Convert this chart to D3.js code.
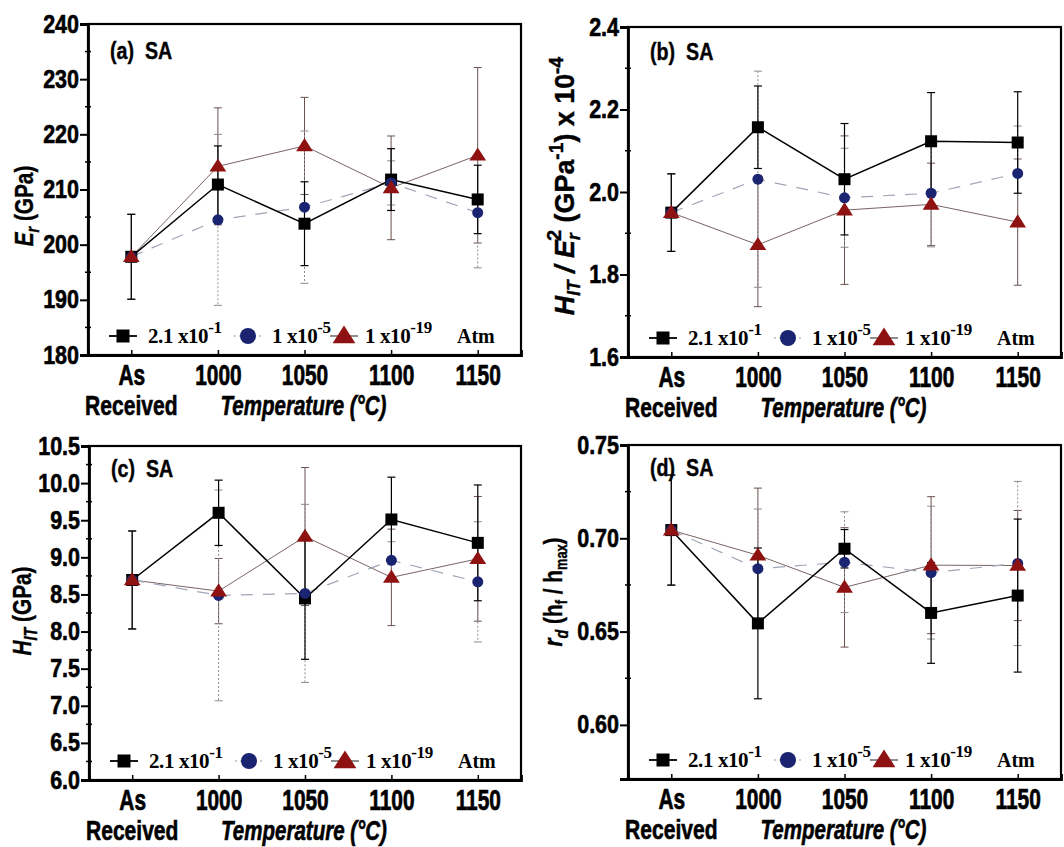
<!DOCTYPE html>
<html>
<head>
<meta charset="utf-8">
<script src="https://cdn.jsdelivr.net/npm/d3@7/dist/d3.min.js"></script>
<style>
  html, body { margin: 0; padding: 0; background: #fff; }
  svg { display: block; }
</style>
</head>
<body>
<svg id="chart" width="1064" height="847"></svg>
<script>
// Annealing temperature categories (x axis)
const categories = ["As Received", "1000", "1050", "1100", "1150"];

// Oxygen partial pressure series (legend): mantissa text + exponent
const seriesLabels = ["2.1 x10", "1 x10", "1 x10"];
const seriesExponents = ["-1", "-5", "-19"];

// (a) Reduced modulus E_r (GPa)
const erHigh = [197.8, 210.9, 203.8, 211.8, 208.2];
const erHighErr = [7.7, 7.0, 7.6, 5.6, 6.2];
const erMid = [197.8, 204.5, 206.8, 211.2, 205.8];
const erMidErr = [7.7, 15.5, 13.8, 4.0, 10.0];
const erLow = [197.8, 214.2, 217.9, 210.3, 216.2];
const erLowErr = [7.7, 10.6, 8.8, 9.4, 15.9];
const erTicks = [180, 190, 200, 210, 220, 230, 240];

// (b) H_IT / E_r^2 (x 10^-4 GPa^-1)
const ratioHigh = [1.95, 2.157, 2.031, 2.123, 2.120];
const ratioHighErr = [0.094, 0.100, 0.135, 0.118, 0.123];
const ratioMid = [1.95, 2.031, 1.986, 1.997, 2.045];
const ratioMidErr = [0.094, 0.262, 0.120, 0.130, 0.115];
const ratioLow = [1.95, 1.872, 1.956, 1.970, 1.927];
const ratioLowErr = [0.094, 0.150, 0.180, 0.100, 0.153];
const ratioTicks = [1.6, 1.8, 2.0, 2.2, 2.4];

// (c) Indentation hardness H_IT (GPa)
const hitHigh = [8.695, 9.60, 8.446, 9.51, 9.195];
const hitHighErr = [0.66, 0.44, 0.82, 0.57, 0.78];
const hitMid = [8.695, 8.487, 8.514, 8.96, 8.67];
const hitMidErr = [0.66, 1.42, 1.20, 0.25, 0.81];
const hitLow = [8.695, 8.545, 9.28, 8.73, 8.98];
const hitLowErr = [0.66, 0.44, 0.93, 0.65, 0.84];
const hitTicks = [6.0, 6.5, 7.0, 7.5, 8.0, 8.5, 9.0, 9.5, 10.0, 10.5];

// (d) Depth recovery ratio r_d (h_f / h_max)
const rdHigh = [0.7044, 0.6544, 0.6944, 0.660, 0.6693];
const rdHighErr = [0.0295, 0.0404, 0.0103, 0.027, 0.041];
const rdMid = [0.7044, 0.6837, 0.6872, 0.6816, 0.6865];
const rdMidErr = [0.0295, 0.032, 0.027, 0.0356, 0.044];
const rdLow = [0.7044, 0.6909, 0.6737, 0.6856, 0.6854];
const rdLowErr = [0.0295, 0.036, 0.032, 0.0367, 0.0295];
const rdTicks = [0.60, 0.65, 0.70, 0.75];

const SANS = "'Liberation Sans',Arial,sans-serif";
const SERIF = "'Liberation Serif','Times New Roman',serif";

// Marker / line styling per series: high O2, mid, low
const styles = [
  { shape: "square",   fill: "#000000", line: "#000000", lineWidth: 1.5, dash: null,    err: "#000000", errWidth: 1.2, errDash: null },
  { shape: "circle",   fill: "#1b2470", line: "#a0a6b8", lineWidth: 1.2, dash: "12,10", err: "#8c8c8c", errWidth: 1.0, errDash: "2,2" },
  { shape: "triangle", fill: "#8e1212", line: "#7a6464", lineWidth: 1.0, dash: null,    err: "#5a3c3c", errWidth: 0.9, errDash: null }
];

const svg = d3.select("#chart");

const panels = [
  { tag: "(a)", left: 88, top: 24, right: 521, bottom: 355, domain: [180, 240], ticks: erTicks, fmt: d3.format("d"),
    series: [[erHigh, erHighErr], [erMid, erMidErr], [erLow, erLowErr]], title: "a", tagY: 35 },
  { tag: "(b)", left: 628, top: 27, right: 1061, bottom: 357, domain: [1.6, 2.4], ticks: ratioTicks, fmt: d3.format(".1f"),
    series: [[ratioHigh, ratioHighErr], [ratioMid, ratioMidErr], [ratioLow, ratioLowErr]], title: "b", tagY: 33 },
  { tag: "(c)", left: 89, top: 446, right: 521, bottom: 780, domain: [6.0, 10.5], ticks: hitTicks, fmt: d3.format(".1f"),
    series: [[hitHigh, hitHighErr], [hitMid, hitMidErr], [hitLow, hitLowErr]], title: "c", tagY: 31 },
  { tag: "(d)", left: 628, top: 445, right: 1061, bottom: 779, domain: [0.571, 0.75], ticks: rdTicks, fmt: d3.format(".2f"),
    series: [[rdHigh, rdHighErr], [rdMid, rdMidErr], [rdLow, rdLowErr]], title: "d", tagY: 31 }
];

function marker(sel, shape, size) {
  if (shape === "square") {
    return sel.append("rect").attr("x", -size / 2).attr("y", -size / 2).attr("width", size).attr("height", size);
  } else if (shape === "circle") {
    return sel.append("circle").attr("r", size / 2);
  } else {
    const h = size * 0.9;
    return sel.append("path").attr("d", `M0,${-h * 0.62}L${size * 0.6},${h * 0.42}L${-size * 0.6},${h * 0.42}Z`);
  }
}

// heavy condensed text placed at (x, y)
function label(g, x, y, str, opts) {
  const o = Object.assign({ size: 28, sx: 0.76, anchor: "middle", italic: false, font: SANS, heavy: 0.6 }, opts || {});
  return g.append("text")
    .attr("transform", `translate(${x},${y}) scale(${o.sx},1)`)
    .attr("text-anchor", o.anchor)
    .attr("font-family", o.font).attr("font-weight", "bold")
    .attr("font-style", o.italic ? "italic" : "normal")
    .attr("font-size", o.size).attr("fill", "#000")
    .attr("stroke", "#000").attr("stroke-width", o.heavy)
    .text(str);
}

function yTitle(g, p) {
  // rotated axis titles with sub / superscripts
  const t = g.append("text").attr("font-family", SANS).attr("font-weight", "bold").attr("font-size", 26)
    .attr("text-anchor", "middle").attr("stroke", "#000").attr("stroke-width", 0.4);
  const sub = 18;
  if (p.title === "a") {
    t.attr("transform", "translate(33,206) rotate(-90) scale(0.8,1)");
    t.append("tspan").attr("font-style", "italic").text("E");
    t.append("tspan").attr("font-style", "italic").attr("font-size", sub).attr("dy", 6).text("r");
    t.append("tspan").attr("dy", -6).text(" (GPa)");
  } else if (p.title === "b") {
    t.attr("font-size", 28).attr("transform", "translate(574,186) rotate(-90) scale(0.96,1)");
    t.append("tspan").attr("font-style", "italic").text("H");
    t.append("tspan").attr("font-style", "italic").attr("font-size", sub).attr("dy", 6).text("IT");
    t.append("tspan").attr("dy", -6).attr("font-style", "italic").text(" / E");
    t.append("tspan").attr("font-style", "italic").attr("font-size", sub).attr("dy", 6).text("r");
    t.append("tspan").attr("font-size", 21).attr("dx", -8).attr("dy", -19).text("2");
    t.append("tspan").attr("dy", 13).text(" (GPa");
    t.append("tspan").attr("font-size", 20).attr("dy", -11).text("-1");
    t.append("tspan").attr("dy", 11).text(") x 10");
    t.append("tspan").attr("font-size", 20).attr("dy", -11).text("-4");
  } else if (p.title === "c") {
    t.attr("transform", "translate(31,611) rotate(-90) scale(0.8,1)");
    t.append("tspan").attr("font-style", "italic").text("H");
    t.append("tspan").attr("font-style", "italic").attr("font-size", sub).attr("dy", 6).text("IT");
    t.append("tspan").attr("dy", -6).text(" (GPa)");
  } else {
    t.attr("transform", "translate(562,592) rotate(-90) scale(0.8,1)");
    t.append("tspan").attr("font-style", "italic").text("r");
    t.append("tspan").attr("font-style", "italic").attr("font-size", sub).attr("dy", 6).text("d");
    t.append("tspan").attr("dy", -6).text(" (h");
    t.append("tspan").attr("font-size", 16).attr("dy", 5).text("f");
    t.append("tspan").attr("dy", -5).text(" / h");
    t.append("tspan").attr("font-size", 16).attr("dy", 5).text("max");
    t.append("tspan").attr("dy", -5).text(")");
  }
}

panels.forEach(p => {
  const g = svg.append("g");
  const x = d3.scaleLinear().domain([-0.5, 4.5]).range([p.left, p.right]);
  const y = d3.scaleLinear().domain(p.domain).range([p.bottom, p.top]);

  // series lines (drawn behind everything)
  [2, 1, 0].forEach(si => {
    const st = styles[si];
    g.append("path")
      .datum(p.series[si][0])
      .attr("fill", "none")
      .attr("stroke", st.line)
      .attr("stroke-width", st.lineWidth)
      .attr("stroke-dasharray", st.dash)
      .attr("d", d3.line().x((d, i) => x(i)).y(d => y(d)));
  });

  // error bars
  [2, 1, 0].forEach(si => {
    const st = styles[si];
    const [vals, errs] = p.series[si];
    const eb = g.append("g").attr("stroke", st.err).attr("stroke-width", st.errWidth);
    vals.forEach((v, i) => {
      const cx = x(i), y1 = y(v + errs[i]), y2 = y(v - errs[i]);
      eb.append("line").attr("x1", cx).attr("x2", cx).attr("y1", y1).attr("y2", y2)
        .attr("stroke-dasharray", st.errDash);
      eb.append("line").attr("x1", cx - 4).attr("x2", cx + 4).attr("y1", y1).attr("y2", y1);
      eb.append("line").attr("x1", cx - 4).attr("x2", cx + 4).attr("y1", y2).attr("y2", y2);
    });
  });

  // markers: squares, circles, then triangles on top
  [0, 1, 2].forEach(si => {
    const st = styles[si];
    const size = si === 0 ? 12 : (si === 1 ? 11 : 14);
    p.series[si][0].forEach((v, i) => {
      const m = g.append("g").attr("transform", `translate(${x(i)},${y(v)})`);
      marker(m, st.shape, size).attr("fill", st.fill);
    });
  });

  // frame
  g.append("rect").attr("x", p.left).attr("y", p.top)
    .attr("width", p.right - p.left).attr("height", p.bottom - p.top)
    .attr("fill", "none").attr("stroke", "#000").attr("stroke-width", 2.2);

  // y axis: outward major ticks, short minor ticks between
  const ya = g.append("g").attr("transform", `translate(${p.left},0)`)
    .call(d3.axisLeft(y).tickValues(p.ticks).tickSize(8).tickPadding(1).tickFormat(p.fmt));
  ya.select(".domain").attr("stroke-width", 2.8);
  ya.selectAll(".tick line").attr("stroke-width", 2);
  ya.selectAll(".tick text").attr("font-family", SANS).attr("font-weight", "bold")
    .attr("font-size", 25).attr("fill", "#000").attr("stroke", "#000").attr("stroke-width", 0.6)
    .attr("x", -9 / 0.86).attr("transform", "scale(0.86,1)");
  d3.pairs(p.ticks).map(([a, b]) => (a + b) / 2).forEach(v => {
    g.append("line").attr("x1", p.left - 3).attr("x2", p.left + 3).attr("y1", y(v)).attr("y2", y(v))
      .attr("stroke", "#000").attr("stroke-width", 1.5);
  });

  // x axis: inward ticks at each category
  const xa = g.append("g").attr("transform", `translate(0,${p.bottom})`)
    .call(d3.axisBottom(x).tickValues(d3.range(categories.length)).tickSize(-5)
      .tickFormat(i => categories[i].split(" ")[0]));
  xa.select(".domain").attr("stroke-width", 2.8);
  xa.selectAll(".tick line").attr("stroke-width", 1.5);
  xa.selectAll(".tick text").attr("font-family", SANS).attr("font-weight", "bold")
    .attr("font-size", 29).attr("fill", "#000").attr("stroke", "#000").attr("stroke-width", 0.7)
    .attr("y", 30).attr("dy", null).attr("transform", "scale(0.72,1)");

  // second line of the first category label and the axis title
  label(g, x(0), p.bottom + 60, categories[0].split(" ").slice(1).join(" "), { size: 27, sx: 0.78 });
  label(g, x(2) - 1, p.bottom + 60, "Temperature (°C)", { size: 27, sx: 0.76, italic: true });

  // panel tag
  label(g, p.left + 22, p.top + p.tagY, p.tag + "  SA", { size: 24, sx: 0.82, anchor: "start", heavy: 0.4 })
    .attr("xml:space", "preserve");

  yTitle(g, p);

  // legend
  const lg = g.append("g").attr("transform", `translate(${p.left},${p.bottom - 19})`);
  const lx = [{ m: 35, t: 60 }, { m: 160, t: 184 }, { m: 256, t: 277 }];
  styles.forEach((st, si) => {
    lg.append("line").attr("x1", lx[si].m - 14).attr("x2", lx[si].m + 14).attr("y1", 0).attr("y2", 0)
      .attr("stroke", si === 1 ? "#999" : (si === 2 ? "#444" : "#000"))
      .attr("stroke-width", si === 0 ? 1.8 : 1.2)
      .attr("stroke-dasharray", si === 1 ? "2,3" : null);
    const mg = lg.append("g").attr("transform", `translate(${lx[si].m},0)`);
    marker(mg, st.shape, si === 0 ? 13 : (si === 1 ? 16 : 19)).attr("fill", st.fill);
    const t = lg.append("text").attr("x", lx[si].t).attr("y", 7)
      .attr("font-family", SERIF).attr("font-weight", "bold").attr("font-size", 21).attr("letter-spacing", -0.4);
    t.append("tspan").text(seriesLabels[si]);
    t.append("tspan").attr("font-size", 17).attr("dy", -10).text(seriesExponents[si]);
  });
  lg.append("text").attr("x", 369).attr("y", 7).attr("font-family", SERIF).attr("font-weight", "bold")
    .attr("font-size", 20).text("Atm");
});
</script>
</body>
</html>
